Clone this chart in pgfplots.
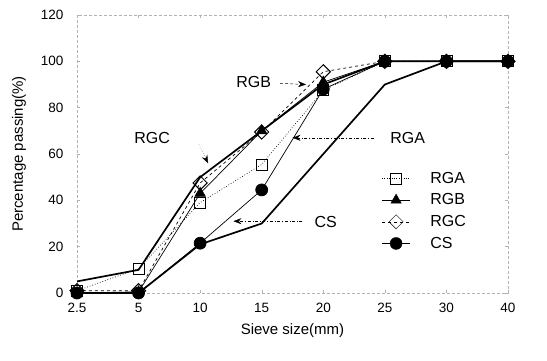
\documentclass[border=0pt]{standalone}
\usepackage{pgfplots}
\pgfplotsset{compat=1.18}
\usepackage{fontspec}
\setmainfont{Liberation Sans}
\usetikzlibrary{calc,arrows.meta}
\begin{document}
\begin{tikzpicture}
\begin{axis}[
  name=ax,
  scale only axis,
  width=431pt, height=278pt,
  xmin=0, xmax=7, ymin=0, ymax=120,
  xtick={0,1,2,3,4,5,6,7},
  xticklabels={2.5,5,10,15,20,25,30,40},
  ytick={0,20,40,60,80,100,120},
  /pgf/number format/assume math mode=true,
  tick label style={font=\fontsize{13.5}{15}\selectfont},
  xticklabel style={yshift=-7pt},
  yticklabel style={xshift=-10pt},
  major tick length=3pt,
  tick style={gray!60, thin},
  axis line style={gray!60, thin, densely dashed},
  axis x line*=box, axis y line*=box,
  xlabel={Sieve size(mm)},
  ylabel={Percentage passing(\%)},
  label style={font=\fontsize{15}{17}\selectfont},
  xlabel style={yshift=-4pt},
  ylabel style={yshift=8pt},
  clip=false,
  legend style={draw=none, fill=none, at={(rel axis cs:0.70,0.45)}, anchor=north west,
    font=\fontsize{16}{18}\selectfont, row sep=5pt,
    /tikz/every odd column/.append style={column sep=18pt},
    legend cell align=left},
  legend image code/.code={\draw[#1] (0pt,0pt) -- (28pt,0pt); \draw[#1,solid] plot coordinates {(14pt,0pt)};},
]
% legend images
\addlegendimage{black, thin, dotted, mark=square, mark size=5.5pt, mark options={solid, fill=white}}
\addlegendentry{RGA}
\addlegendimage{black, thin, mark=triangle*, mark size=6pt, mark options={solid}}
\addlegendentry{RGB}
\addlegendimage{black, thin, dashed, mark=square, mark size=5pt, mark options={solid, fill=white, rotate=45}}
\addlegendentry{RGC}
\addlegendimage{black, thin, mark=*, mark size=6pt, mark options={solid}}
\addlegendentry{CS}
% envelope lines (no legend)
\addplot[black, line width=1.7pt, forget plot] coordinates {(0,5) (1,10) (2,50) (3,70) (4,90) (5,100) (6,100) (7,100)};
\addplot[black, line width=1.7pt, forget plot] coordinates {(0,0) (1,0) (2,21) (3,30) (4,60) (5,90) (6,100) (7,100)};
% series (drawn so that diamonds end on top)
\addplot[black, line width=0.7pt, mark=*, mark size=6pt, mark options={solid}, forget plot] coordinates {(0,0) (1,0) (2,21.5) (3,44.5) (4,88) (5,100) (6,100) (7,100)};
\addplot[black, line width=0.7pt, dotted, mark=square, mark size=5.5pt, mark options={solid, fill=white}, forget plot] coordinates {(0,1) (1,10.5) (2,39) (3,55.5) (4,87.5) (5,100) (6,100) (7,100)};
\addplot[black, line width=0.7pt, mark=triangle*, mark size=6pt, mark options={solid}, forget plot] coordinates {(0,0) (1,0.5) (2,43) (3,70) (4,91) (5,100) (6,100) (7,100)};
\addplot[black, line width=0.7pt, dashed, mark=square, mark size=5pt, mark options={solid, fill=white, rotate=45, line width=1pt}, forget plot] coordinates {(0,1) (1,1) (2,47.5) (3,69.5) (4,95.5) (5,100) (6,100) (7,100)};
% annotations
\node[font=\fontsize{16}{18}\selectfont, anchor=center] at (axis cs:2.87,91) {RGB};
\draw[densely dashed, -{Stealth[length=8pt,width=6pt]}] (axis cs:3.3,90.5) -- (axis cs:3.72,90);
\node[font=\fontsize{16}{18}\selectfont, anchor=center] at (axis cs:1.22,67) {RGC};
\draw[dotted, -{Stealth[length=8pt,width=6pt]}] (axis cs:1.98,64) -- (axis cs:2.13,56);
\node[font=\fontsize{16}{18}\selectfont, anchor=center] at (axis cs:5.37,67) {RGA};
\draw[dash dot, -{Stealth[length=8pt,width=6pt]}] (axis cs:4.82,67) -- (axis cs:3.50,67);
\node[font=\fontsize{16}{18}\selectfont, anchor=center] at (axis cs:4.04,30.6) {CS};
\draw[dash dot, -{Stealth[length=8pt,width=6pt]}] (axis cs:3.66,31) -- (axis cs:2.54,31);
\end{axis}
\pgfresetboundingbox
\path ($(ax.south west)+(-77pt,-67pt)$) rectangle ($(ax.south west)+(470pt,293pt)$);
\end{tikzpicture}
\end{document}
